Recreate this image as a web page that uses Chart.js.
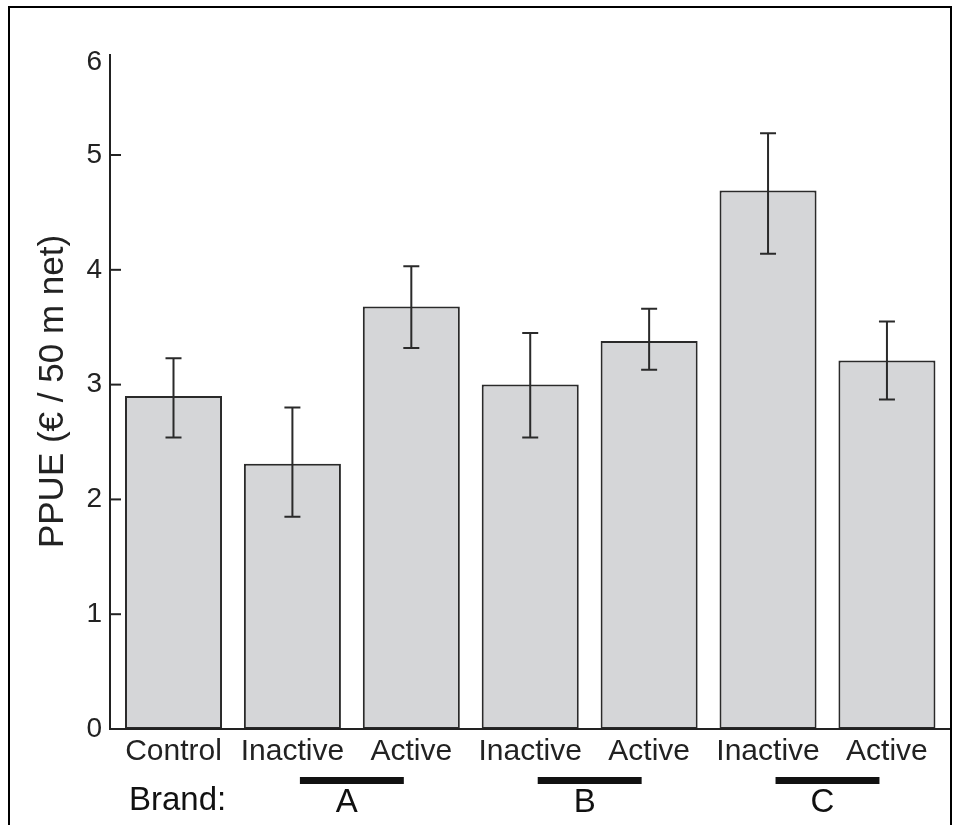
<!DOCTYPE html>
<html>
<head>
<meta charset="utf-8">
<script src="https://cdn.jsdelivr.net/npm/chart.js@4/dist/chart.umd.min.js"></script>
<style>
  html, body { margin: 0; padding: 0; background: #fff; }
  #wrap { position: relative; width: 954px; height: 825px; overflow: hidden; }
  #c { position: absolute; left: 0; top: 0; }
  #frame { position: absolute; left: 8px; top: 6px; width: 940px; height: 830px;
           border: 2px solid #000; border-bottom: none; pointer-events: none; }
</style>
</head>
<body>
<div id="wrap">
  <canvas id="c" width="954" height="825"></canvas>
  <div id="frame"></div>
</div>
<script>
// ---- data ----
const categories = ['Control', 'Inactive', 'Active', 'Inactive', 'Active', 'Inactive', 'Active'];
const means      = [2.90, 2.31, 3.68, 3.00, 3.38, 4.69, 3.21];
const errLow     = [2.54, 1.85, 3.32, 2.54, 3.13, 4.14, 2.87];
const errHigh    = [3.23, 2.80, 4.03, 3.45, 3.66, 5.19, 3.55];
const yTickValues = [0, 1, 2, 3, 4, 5, 5.81];
const yTickLabels = ['0', '1', '2', '3', '4', '5', '6'];
const yAxisMax = 5.88;
const brandLabels = ['A', 'B', 'C'];
const brandGroups = [[1, 2], [3, 4], [5, 6]];
const brandTitle = 'Brand:';
const yTitle = 'PPUE (€ / 50 m net)';

const FONT = "'Liberation Sans', Arial, Helvetica, sans-serif";
const INK = '#222';

const axesPlugin = {
  id: 'axesPlugin',
  afterDatasetsDraw(chart) {
    const ctx = chart.ctx;
    const xs = chart.scales.x, ys = chart.scales.y;
    const y0 = ys.getPixelForValue(0);
    const yTop = ys.getPixelForValue(yAxisMax);
    ctx.save();
    ctx.strokeStyle = INK;
    ctx.lineWidth = 2;
    // y axis
    ctx.beginPath();
    ctx.moveTo(110, yTop);
    ctx.lineTo(110, y0 + 1);
    ctx.stroke();
    // x axis
    ctx.beginPath();
    ctx.moveTo(109, y0);
    ctx.lineTo(952, y0);
    ctx.stroke();
    // inward tick marks at integer values (not 0, not the top label)
    for (let i = 1; i < yTickValues.length - 1; i++) {
      const py = ys.getPixelForValue(yTickValues[i]);
      ctx.beginPath();
      ctx.moveTo(110, py);
      ctx.lineTo(121, py);
      ctx.stroke();
    }
    // error bars
    const meta = chart.getDatasetMeta(0);
    ctx.strokeStyle = '#2a2a2a';
    ctx.lineWidth = 2;
    meta.data.forEach((bar, i) => {
      const x = bar.x;
      const yh = ys.getPixelForValue(errHigh[i]);
      const yl = ys.getPixelForValue(errLow[i]);
      ctx.beginPath();
      ctx.moveTo(x, yh); ctx.lineTo(x, yl);
      ctx.moveTo(x - 8, yh); ctx.lineTo(x + 8, yh);
      ctx.moveTo(x - 8, yl); ctx.lineTo(x + 8, yl);
      ctx.stroke();
    });
    // brand row
    const cw = (xs.right - xs.left) / categories.length;
    ctx.fillStyle = '#111';
    ctx.font = '33px ' + FONT;
    ctx.textBaseline = 'middle';
    ctx.textAlign = 'left';
    ctx.fillText(brandTitle, 129, 801);
    brandGroups.forEach((g, k) => {
      const cx = (xs.getPixelForValue(g[0]) + xs.getPixelForValue(g[1])) / 2;
      ctx.fillRect(cx - 0.437 * cw, 777, 0.874 * cw, 7);
      ctx.textAlign = 'center';
      ctx.fillText(brandLabels[k], cx - 5, 803);
    });
    ctx.restore();
  }
};

new Chart(document.getElementById('c'), {
  type: 'bar',
  data: {
    labels: categories,
    datasets: [{
      data: means,
      backgroundColor: '#d5d6d8',
      borderColor: '#2a2a2a',
      borderWidth: 2,
      borderSkipped: false,
      categoryPercentage: 1,
      barPercentage: 0.816
    }]
  },
  options: {
    responsive: false,
    animation: false,
    layout: { padding: { top: 54, right: 7.6, left: 0, bottom: 0 } },
    plugins: { legend: { display: false }, tooltip: { enabled: false } },
    scales: {
      x: {
        type: 'category',
        grid: { display: false, drawTicks: false },
        border: { display: false },
        ticks: { color: INK, font: { family: FONT, size: 30 }, padding: 5, maxRotation: 0, autoSkip: false },
        afterFit(s) { s.height = 96; }
      },
      y: {
        min: 0,
        max: yAxisMax,
        afterBuildTicks(s) { s.ticks = yTickValues.map(v => ({ value: v })); },
        grid: { display: false, drawTicks: false },
        border: { display: false },
        ticks: {
          color: INK, font: { family: FONT, size: 28 }, padding: 12,
          callback(v, i) { return yTickLabels[i]; }
        },
        title: {
          display: true, text: yTitle, color: INK,
          font: { family: FONT, size: 35 }, padding: { top: 32, bottom: 0 }
        },
        afterFit(s) { s.width = 114.05; }
      }
    }
  },
  plugins: [axesPlugin]
});
</script>
</body>
</html>
